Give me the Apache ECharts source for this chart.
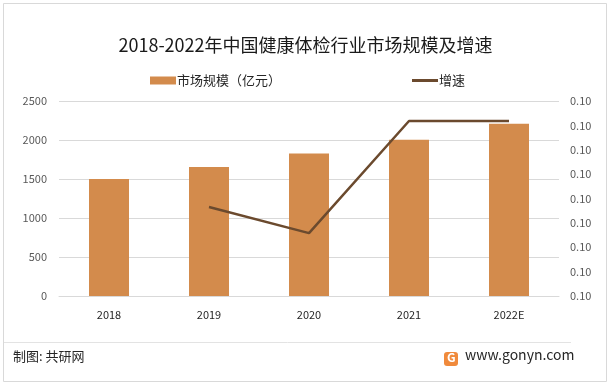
<!DOCTYPE html>
<html>
<head>
<meta charset="utf-8">
<script src="https://cdn.jsdelivr.net/npm/echarts@6/dist/echarts.min.js"></script>
<style>
html,body{margin:0;padding:0;background:#fff;}
#chart{width:611px;height:385px;}
</style>
</head>
<body>
<div id="chart"></div>
<script>
const categories = ['2018', '2019', '2020', '2021', '2022E'];
const marketSize = [1500, 1655, 1828, 2002, 2208];
const growthRate = [null, 0.09965, 0.09858, 0.10318, 0.10318];
const leftTicks = { min: 0, max: 2500, interval: 500 };
const rightTicks = { min: 0.096, max: 0.104, interval: 0.001 };

const font = '"Noto Sans CJK SC", "Noto Sans", sans-serif';
const chart = echarts.init(document.getElementById('chart'), null, { renderer: 'canvas' });

chart.setOption({
  backgroundColor: '#fff',
  animation: false,
  title: {
    text: '2018-2022年中国健康体检行业市场规模及增速',
    left: 'center',
    top: 31,
    textStyle: { fontFamily: font, fontSize: 18, fontWeight: 'normal', color: '#1a1a1a' }
  },
  legend: {
    top: 69,
    left: 145,
    itemGap: 131,
    itemWidth: 26,
    itemHeight: 8,
    textStyle: { fontFamily: font, fontSize: 13, color: '#262626', padding: [0, 0, 0, -4] },
    data: [
      { name: '市场规模（亿元）', icon: 'rect' },
      { name: '增速', icon: 'path://M0,0h26v0.01h-26z M0,2.5h26v3h-26z M0,7.99h26v0.01h-26z', itemStyle: { color: '#6b4a2e' } }
    ]
  },
  grid: { left: 59, right: 52, top: 101, bottom: 89 },
  xAxis: {
    type: 'category',
    data: categories,
    axisLine: { lineStyle: { color: '#d9d9d9' } },
    axisTick: { show: false },
    axisLabel: { color: '#262626', fontSize: 11, fontFamily: font, margin: 13 }
  },
  yAxis: [
    {
      type: 'value',
      min: leftTicks.min, max: leftTicks.max, interval: leftTicks.interval,
      axisLine: { show: false },
      axisTick: { show: false },
      splitLine: { lineStyle: { color: '#d9d9d9' } },
      axisLabel: { color: '#595959', fontSize: 11, fontFamily: font, margin: 12, formatter: v => String(v) }
    },
    {
      type: 'value',
      min: rightTicks.min, max: rightTicks.max, interval: rightTicks.interval,
      axisLine: { show: false },
      axisTick: { show: false },
      splitLine: { show: false },
      axisLabel: {
        color: '#595959', fontSize: 11, fontFamily: font, margin: 11,
        formatter: v => v.toFixed(2)
      }
    }
  ],
  series: [
    {
      name: '市场规模（亿元）',
      type: 'bar',
      data: marketSize,
      barWidth: 40,
      itemStyle: { color: '#d38b4c' }
    },
    {
      name: '增速',
      type: 'line',
      yAxisIndex: 1,
      data: growthRate,
      symbol: 'none',
      lineStyle: { color: '#6b4a2e', width: 2.5 },
      itemStyle: { color: '#6b4a2e' }
    }
  ],
  graphic: [
    { type: 'rect', shape: { x: 3.5, y: 3.5, width: 603, height: 378 }, style: { fill: 'none', stroke: '#d9d9d9', lineWidth: 1 }, silent: true },
    { type: 'line', shape: { x1: 4, y1: 342.5, x2: 571, y2: 342.5 }, style: { stroke: '#e3e3e3', lineWidth: 1 } },
    { type: 'text', left: 13, top: 350, style: { text: '制图: 共研网', fontFamily: font, fontSize: 13, fill: '#262626' } },
    { type: 'rect', shape: { x: 444, y: 352, width: 14, height: 14, r: 3 }, style: { fill: '#f08a3c' } },
    { type: 'text', left: 447, top: 351, style: { text: 'G', fontFamily: font, fontSize: 12, fontWeight: 'bold', fill: '#fff' } },
    { type: 'text', left: 465, top: 348, style: { text: 'www.gonyn.com', fontFamily: font, fontSize: 14, fill: '#262626' } }
  ]
});
</script>
</body>
</html>
